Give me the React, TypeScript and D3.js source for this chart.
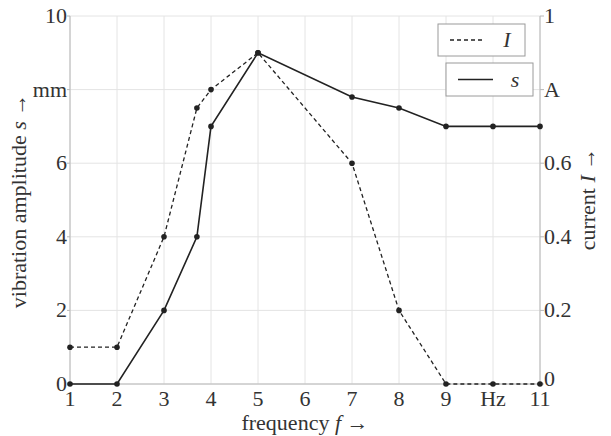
import React, { useEffect, useRef } from "react";
import * as d3 from "d3";

const freq = [1, 2, 3, 3.7, 4, 5, 7, 8, 9, 10, 11];
const amplitude = [0, 0, 2, 4, 7, 9, 7.8, 7.5, 7, 7, 7];
const current = [0.1, 0.1, 0.4, 0.75, 0.8, 0.9, 0.6, 0.2, 0, 0, 0];

const xTicks = [1, 2, 3, 4, 5, 6, 7, 8, 9, 10, 11];
const xTickLabels = ["1", "2", "3", "4", "5", "6", "7", "8", "9", "Hz", "11"];
const leftTicks = [0, 2, 4, 6, 8, 10];
const leftTickLabels = ["0", "2", "4", "6", "mm", "10"];
const rightTicks = [0, 0.2, 0.4, 0.6, 0.8, 1];
const rightTickLabels = ["0", "0.2", "0.4", "0.6", "A", "1"];

const W = 611;
const H = 436;
const FONT = "'Liberation Serif', 'DejaVu Serif', serif";
const FS = 22;

const App = () => {
  const ref = useRef<SVGSVGElement | null>(null);

  useEffect(() => {
    const svg = d3.select(ref.current);
    svg.selectAll("*").remove();

    const x = d3.scaleLinear().domain([1, 11]).range([70, 540]);
    const yL = d3.scaleLinear().domain([0, 10]).range([384, 16]);
    const yR = d3.scaleLinear().domain([0, 1]).range([384, 16]);

    const g = svg.append("g");

    // grid
    g.selectAll(".vgrid")
      .data(xTicks)
      .enter()
      .append("line")
      .attr("x1", (d) => x(d))
      .attr("x2", (d) => x(d))
      .attr("y1", yL(0))
      .attr("y2", yL(10))
      .attr("stroke", "#e4e4e4")
      .attr("stroke-width", 1);
    g.selectAll(".hgrid")
      .data(leftTicks)
      .enter()
      .append("line")
      .attr("x1", x(1))
      .attr("x2", x(11))
      .attr("y1", (d) => yL(d))
      .attr("y2", (d) => yL(d))
      .attr("stroke", "#e4e4e4")
      .attr("stroke-width", 1);

    // axes lines
    const axisColor = "#b8b8b8";
    g.append("line").attr("x1", x(1)).attr("x2", x(1)).attr("y1", yL(0)).attr("y2", yL(10)).attr("stroke", axisColor);
    g.append("line").attr("x1", x(11)).attr("x2", x(11)).attr("y1", yL(0)).attr("y2", yL(10)).attr("stroke", axisColor);
    g.append("line").attr("x1", x(1)).attr("x2", x(11)).attr("y1", yL(0)).attr("y2", yL(0)).attr("stroke", axisColor);

    // ticks
    g.selectAll(".lt")
      .data(leftTicks)
      .enter()
      .append("line")
      .attr("x1", x(1) - 3)
      .attr("x2", x(1))
      .attr("y1", (d) => yL(d))
      .attr("y2", (d) => yL(d))
      .attr("stroke", axisColor);
    g.selectAll(".rt")
      .data(rightTicks)
      .enter()
      .append("line")
      .attr("x1", x(11))
      .attr("x2", x(11) + 4)
      .attr("y1", (d) => yR(d))
      .attr("y2", (d) => yR(d))
      .attr("stroke", axisColor);

    // tick labels
    const textColor = "#333";
    g.selectAll(".xl")
      .data(xTicks)
      .enter()
      .append("text")
      .attr("x", (d) => x(d))
      .attr("y", 406)
      .attr("text-anchor", "middle")
      .attr("font-family", FONT)
      .attr("font-size", FS)
      .attr("fill", textColor)
      .text((_, i) => xTickLabels[i]);
    g.selectAll(".yl")
      .data(leftTicks)
      .enter()
      .append("text")
      .attr("x", x(1) - 3)
      .attr("y", (d) => yL(d) + 7)
      .attr("text-anchor", "end")
      .attr("font-family", FONT)
      .attr("font-size", FS)
      .attr("fill", textColor)
      .text((_, i) => leftTickLabels[i]);
    g.selectAll(".yr")
      .data(rightTicks)
      .enter()
      .append("text")
      .attr("x", x(11) + 4)
      .attr("y", (d) => yR(d) + 7 - (d === 0 ? 5 : 0))
      .attr("text-anchor", "start")
      .attr("font-family", FONT)
      .attr("font-size", FS)
      .attr("fill", textColor)
      .text((_, i) => rightTickLabels[i]);

    // axis titles
    const xt = g
      .append("text")
      .attr("x", 305)
      .attr("y", 430)
      .attr("text-anchor", "middle")
      .attr("font-family", FONT)
      .attr("font-size", FS)
      .attr("fill", textColor);
    xt.append("tspan").text("frequency ");
    xt.append("tspan").attr("font-style", "italic").text("f");
    xt.append("tspan").text(" →");

    const lt = g
      .append("text")
      .attr("transform", `translate(26, 201) rotate(-90)`)
      .attr("text-anchor", "middle")
      .attr("font-family", FONT)
      .attr("font-size", FS)
      .attr("fill", textColor);
    lt.append("tspan").text("vibration amplitude ");
    lt.append("tspan").attr("font-style", "italic").text("s");
    lt.append("tspan").text(" →");

    const rt = g
      .append("text")
      .attr("transform", `translate(595, 199) rotate(-90)`)
      .attr("text-anchor", "middle")
      .attr("font-family", FONT)
      .attr("font-size", FS)
      .attr("fill", textColor);
    rt.append("tspan").text("current ");
    rt.append("tspan").attr("font-style", "italic").text("I");
    rt.append("tspan").text(" →");

    // lines
    const lineColor = "#222";
    const idx = d3.range(freq.length);
    const lineS = d3
      .line<number>()
      .x((i) => x(freq[i]))
      .y((i) => yL(amplitude[i]));
    const lineI = d3
      .line<number>()
      .x((i) => x(freq[i]))
      .y((i) => yR(current[i]));

    g.append("path")
      .attr("d", lineI(idx))
      .attr("fill", "none")
      .attr("stroke", lineColor)
      .attr("stroke-width", 1.3)
      .attr("stroke-dasharray", "4,3");
    g.append("path")
      .attr("d", lineS(idx))
      .attr("fill", "none")
      .attr("stroke", lineColor)
      .attr("stroke-width", 1.6);

    g.selectAll(".mi")
      .data(idx)
      .enter()
      .append("circle")
      .attr("cx", (i) => x(freq[i]))
      .attr("cy", (i) => yR(current[i]))
      .attr("r", 2.8)
      .attr("fill", lineColor);
    g.selectAll(".ms")
      .data(idx)
      .enter()
      .append("circle")
      .attr("cx", (i) => x(freq[i]))
      .attr("cy", (i) => yL(amplitude[i]))
      .attr("r", 2.8)
      .attr("fill", lineColor);

    // legend
    const legend = [
      { label: "I", dash: "4,3", x0: 438, y0: 24, w: 87, h: 32 },
      { label: "s", dash: null, x0: 446, y0: 63, w: 87, h: 33 },
    ];
    legend.forEach((l) => {
      const lg = g.append("g").attr("transform", `translate(${l.x0}, ${l.y0})`);
      lg.append("rect")
        .attr("width", l.w)
        .attr("height", l.h)
        .attr("fill", "#fff")
        .attr("stroke", "#9a9a9a")
        .attr("stroke-width", 1);
      lg.append("line")
        .attr("x1", 12)
        .attr("x2", 47)
        .attr("y1", l.h / 2)
        .attr("y2", l.h / 2)
        .attr("stroke", lineColor)
        .attr("stroke-width", l.dash ? 1.3 : 1.6)
        .attr("stroke-dasharray", l.dash);
      lg.append("text")
        .attr("x", 69)
        .attr("y", l.h / 2 + 7)
        .attr("text-anchor", "middle")
        .attr("font-family", FONT)
        .attr("font-style", "italic")
        .attr("font-size", FS)
        .attr("fill", textColor)
        .text(l.label);
    });
  }, []);

  return (
    <div style={{ position: "absolute", left: 0, top: 0 }}>
      <svg ref={ref} width={W} height={H} style={{ display: "block", background: "#fff" }} />
    </div>
  );
};

export default App;
